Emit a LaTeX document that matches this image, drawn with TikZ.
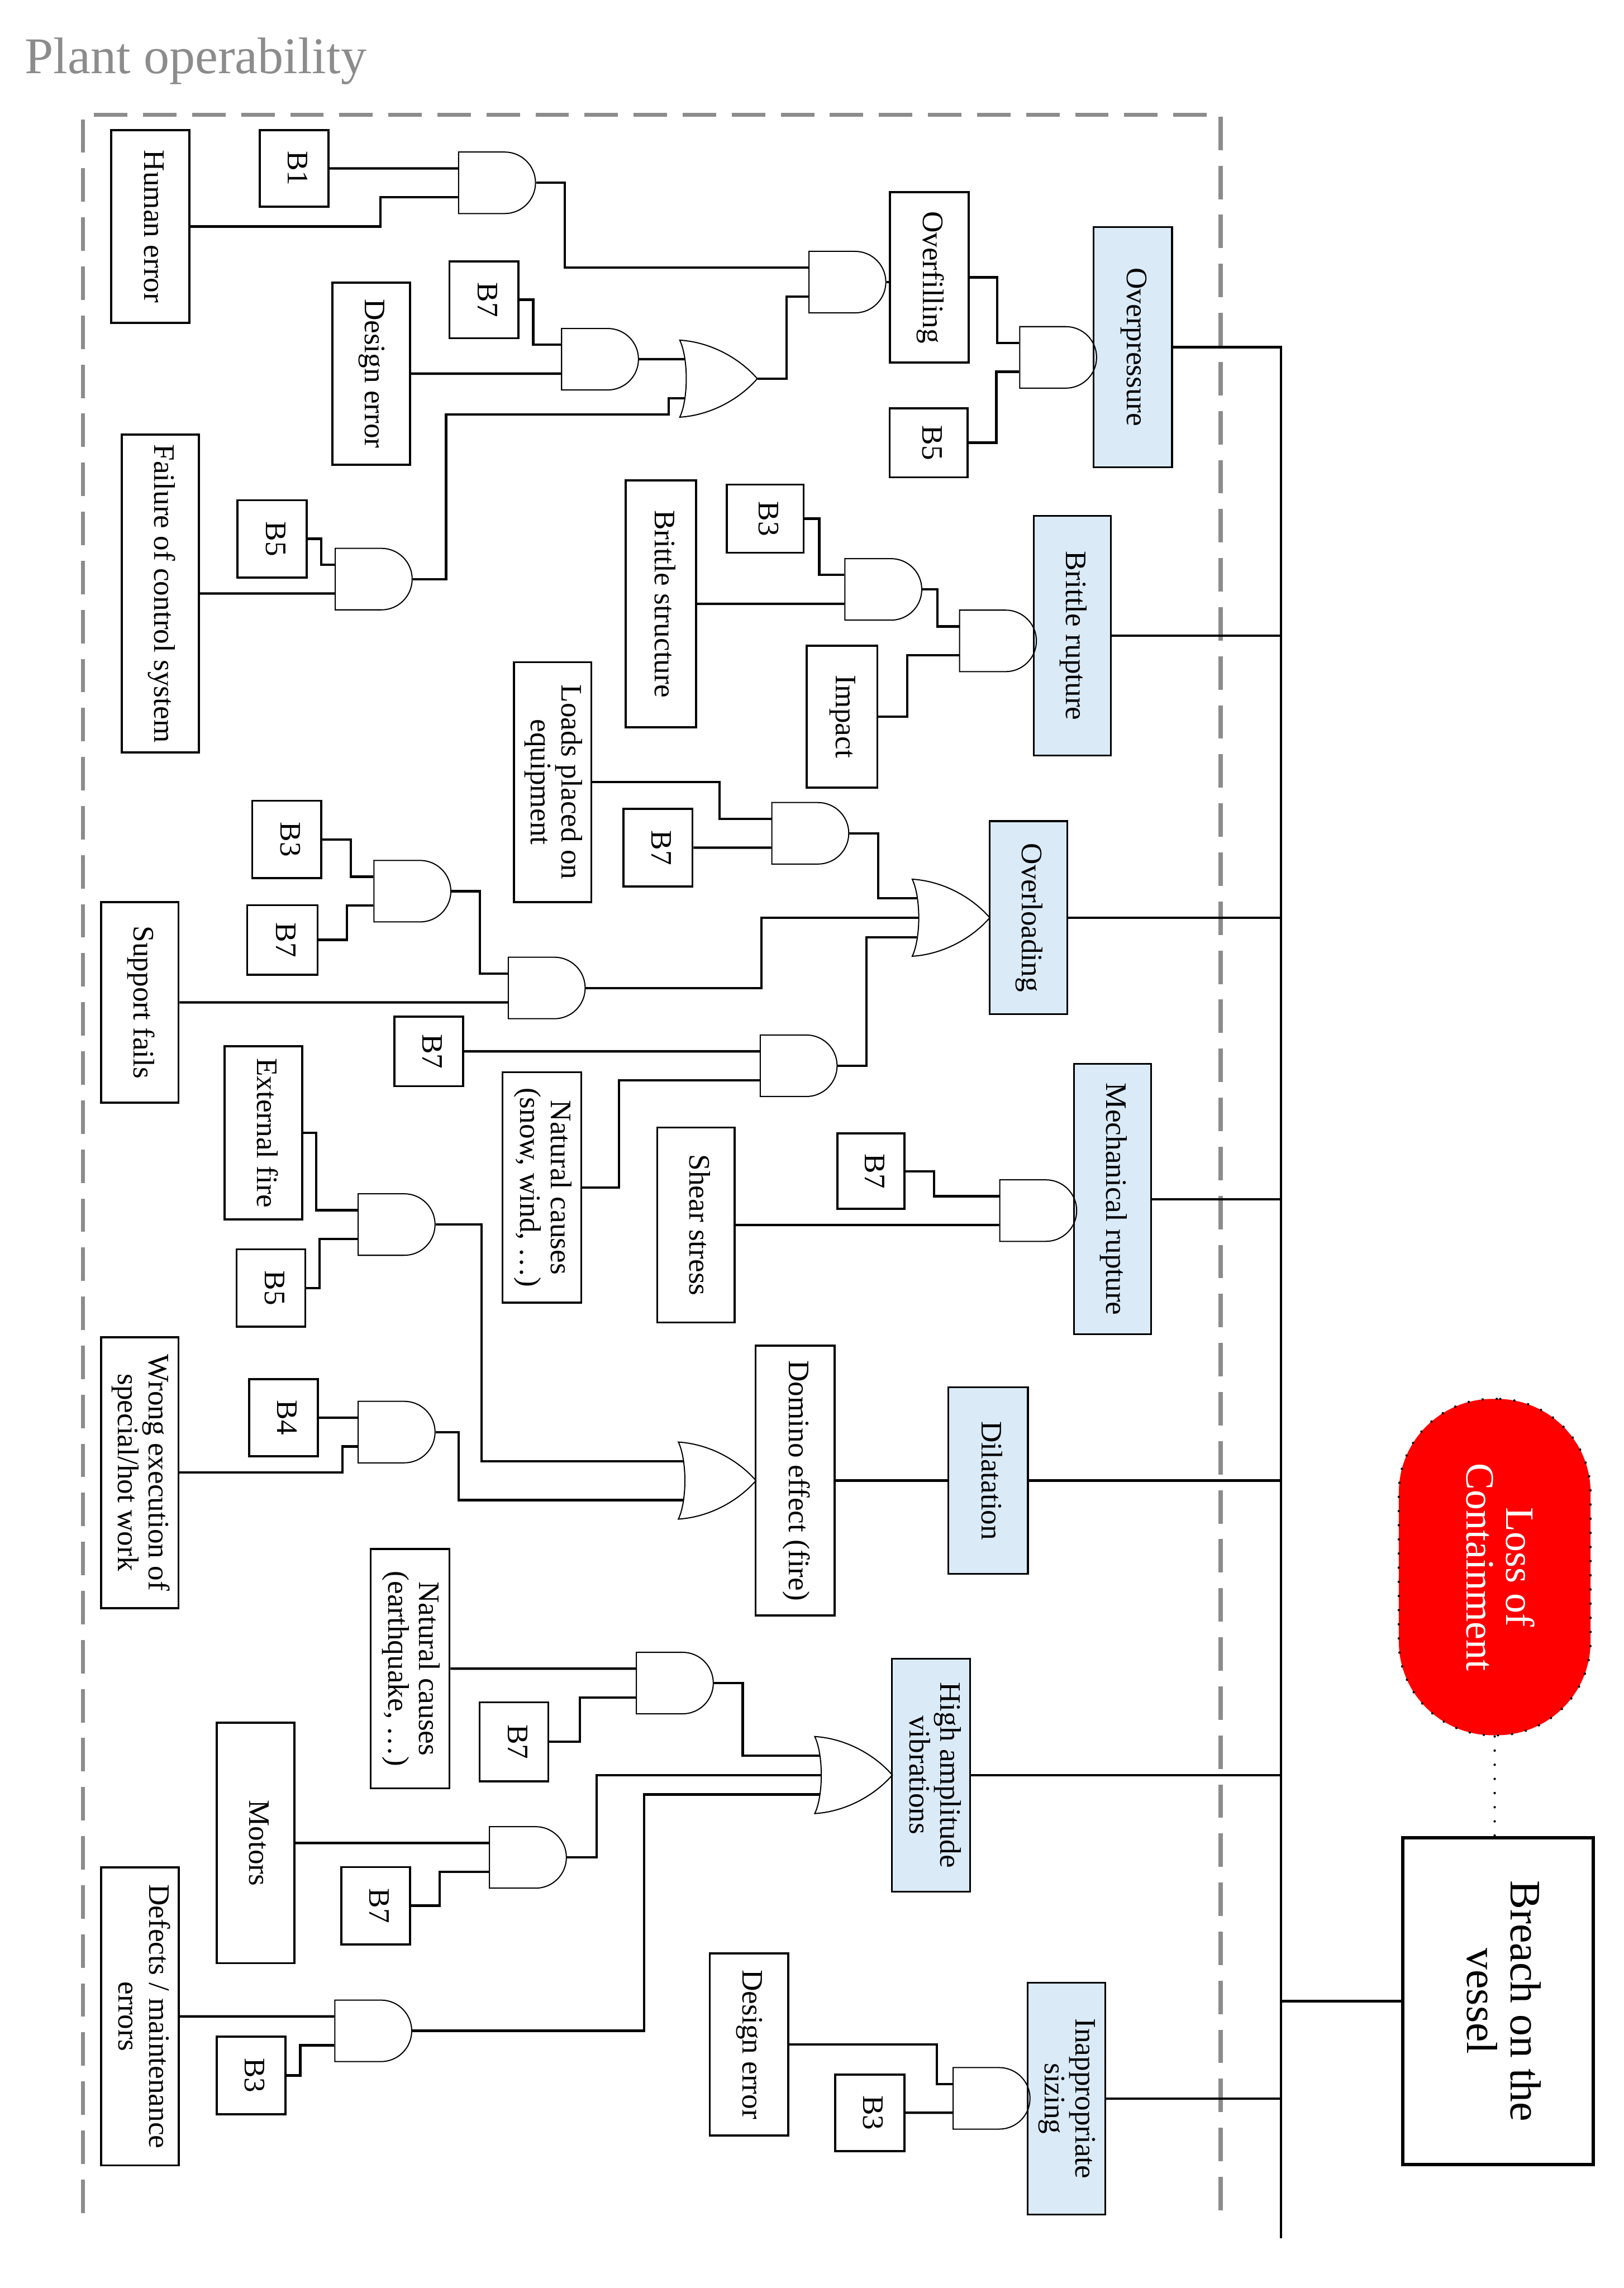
\documentclass[tikz,border=0pt]{standalone}
\usepackage{fontspec}
\setmainfont{Liberation Serif}
\usetikzlibrary{shapes.gates.logic.US}
\definecolor{evtblue}{RGB}{218,234,247}
\definecolor{framegray}{RGB}{140,140,140}
\definecolor{locred}{RGB}{255,0,0}
\newcommand{\rtext}[1]{\rotatebox{-90}{\begin{tabular}{@{}c@{}}#1\end{tabular}}}

\begin{document}
\begin{tikzpicture}
[basic/.style={draw,line width=1.3pt,fill=white,inner sep=0pt,font=\fontsize{18.5}{19}\selectfont},
inter/.style={basic,fill=evtblue,line width=1.1pt},
andg/.style={and gate US,draw,line width=0.7pt,minimum width=1.68cm,minimum height=1.26cm,inner sep=0pt},
org/.style={minimum width=1.68cm,minimum height=1.67cm,inner sep=0pt},
gateline/.style={line width=0.7pt},
wire/.style={line width=1.5pt},
frame/.style={draw=framegray,line width=2.6pt,dash pattern=on 20.8pt off 9.7pt},
dots/.style={line width=1.5pt,line cap=round,dash pattern=on 0pt off 8.8pt},
]
\useasboundingbox (0,0) rectangle (35.48,-50);
% title and dashed frame
\node[anchor=base west,text=framegray,font=\fontsize{32}{34}\selectfont] (title) at (0.42,-1.61) {Plant operability};
\draw[frame] (1.81,-48.36) -- (1.81,-2.51) -- (26.67,-2.51) -- (26.67,-48.36);
% basic events
\node[basic,minimum width=1.71cm,minimum height=4.22cm] (he) at (3.285,-4.95) {\rtext{Human error}};
\node[basic,minimum width=1.50cm,minimum height=1.68cm] (b1) at (6.43,-3.68) {\rtext{B1}};
\node[basic,minimum width=1.51cm,minimum height=1.68cm] (b7a) at (10.575,-6.55) {\rtext{B7}};
\node[basic,minimum width=1.70cm,minimum height=3.98cm] (de1) at (8.11,-8.165) {\rtext{Design error}};
\node[basic,minimum width=1.69cm,minimum height=6.95cm] (fcs) at (3.505,-12.97) {\rtext{Failure of control system}};
\node[basic,minimum width=1.51cm,minimum height=1.69cm] (b5a) at (5.945,-11.775) {\rtext{B5}};
\node[basic,minimum width=1.72cm,minimum height=3.72cm] (ovf) at (20.31,-6.06) {\rtext{Overfilling}};
\node[basic,minimum width=1.70cm,minimum height=1.51cm] (b5b) at (20.29,-9.675) {\rtext{B5}};
\node[basic,minimum width=1.54cm,minimum height=5.40cm] (bs) at (14.44,-13.195) {\rtext{Brittle structure}};
\node[basic,minimum width=1.68cm,minimum height=1.49cm] (b3a) at (16.72,-11.335) {\rtext{B3}};
\node[basic,minimum width=1.54cm,minimum height=3.10cm] (imp) at (18.40,-15.66) {\rtext{Impact}};
\node[basic,minimum width=1.69cm,minimum height=5.24cm] (lpe) at (12.075,-17.09) {\rtext{Loads placed on\\equipment}};
\node[basic,minimum width=1.51cm,minimum height=1.69cm] (b7b) at (14.375,-18.525) {\rtext{B7}};
\node[basic,minimum width=1.51cm,minimum height=1.69cm] (b3b) at (6.265,-18.345) {\rtext{B3}};
\node[basic,minimum width=1.54cm,minimum height=1.52cm] (b7c) at (6.17,-20.54) {\rtext{B7}};
\node[basic,minimum width=1.69cm,minimum height=4.39cm] (sf) at (3.055,-21.905) {\rtext{Support fails}};
\node[basic,minimum width=1.50cm,minimum height=1.52cm] (b7d) at (9.37,-22.975) {\rtext{B7}};
\node[basic,minimum width=1.72cm,minimum height=5.04cm] (ncs) at (11.84,-25.95) {\rtext{Natural causes\\(snow, wind, …)}};
\node[basic,minimum width=1.69cm,minimum height=3.79cm] (ef) at (5.755,-24.755) {\rtext{External fire}};
\node[basic,minimum width=1.50cm,minimum height=1.69cm] (b5c) at (5.92,-28.145) {\rtext{B5}};
\node[basic,minimum width=1.69cm,minimum height=4.26cm] (ss) at (15.205,-26.77) {\rtext{Shear stress}};
\node[basic,minimum width=1.46cm,minimum height=1.65cm] (b7e) at (19.03,-25.595) {\rtext{B7}};
\node[basic,minimum width=1.69cm,minimum height=5.92cm] (wex) at (3.055,-32.18) {\rtext{Wrong execution of\\special/hot work}};
\node[basic,minimum width=1.51cm,minimum height=1.69cm] (b4) at (6.195,-30.98) {\rtext{B4}};
\node[basic,minimum width=1.73cm,minimum height=5.90cm] (dom) at (17.375,-32.355) {\rtext{Domino effect (fire)}};
\node[basic,minimum width=1.72cm,minimum height=5.23cm] (nce) at (8.96,-36.465) {\rtext{Natural causes\\(earthquake, …)}};
\node[basic,minimum width=1.50cm,minimum height=1.73cm] (b7f) at (11.23,-38.065) {\rtext{B7}};
\node[basic,minimum width=1.69cm,minimum height=5.25cm] (mot) at (5.585,-40.275) {\rtext{Motors}};
\node[basic,minimum width=1.50cm,minimum height=1.69cm] (b7g) at (8.21,-41.645) {\rtext{B7}};
\node[basic,minimum width=1.70cm,minimum height=6.51cm] (dme) at (3.06,-44.065) {\rtext{Defects / maintenance\\errors}};
\node[basic,minimum width=1.50cm,minimum height=1.69cm] (b3c) at (5.49,-45.355) {\rtext{B3}};
\node[basic,minimum width=1.71cm,minimum height=3.98cm] (de2) at (16.365,-44.68) {\rtext{Design error}};
\node[basic,minimum width=1.51cm,minimum height=1.67cm] (b3d) at (19.005,-46.17) {\rtext{B3}};
% intermediate events
\node[inter,minimum width=1.71cm,minimum height=5.25cm] (ovp) at (24.755,-7.585) {\rtext{Overpressure}};
\node[inter,minimum width=1.68cm,minimum height=5.24cm] (br) at (23.43,-13.89) {\rtext{Brittle rupture}};
\node[inter,minimum width=1.70cm,minimum height=4.22cm] (ovl) at (22.47,-20.055) {\rtext{Overloading}};
\node[inter,minimum width=1.68cm,minimum height=5.91cm] (mr) at (24.31,-26.205) {\rtext{Mechanical rupture}};
\node[inter,minimum width=1.74cm,minimum height=4.08cm] (dil) at (21.59,-32.355) {\rtext{Dilatation}};
\node[inter,minimum width=1.71cm,minimum height=5.09cm] (hav) at (20.345,-38.79) {\rtext{High amplitude\\vibrations}};
\node[inter,minimum width=1.70cm,minimum height=5.06cm] (ias) at (23.30,-45.86) {\rtext{Inappropriate\\sizing}};
% top event
\node[basic,line width=2.2pt,minimum width=4.16cm,minimum height=7.14cm,font=\fontsize{27}{27}\selectfont] (bv) at (32.73,-43.73) {\rtext{Breach on the\\vessel}};
\node[draw,dots,fill=locred,rounded corners=2.05cm,minimum width=4.19cm,minimum height=7.35cm,text=white,font=\fontsize{25}{25}\selectfont] (loc) at (32.66,-34.245) {\rtext{Loss of\\Containment}};
% gates
\node[andg] (g1) at (10.805,-3.995) {};
\node[andg] (g2) at (18.46,-6.165) {};
\node[andg] (ga) at (13.055,-7.85) {};
\node[andg] (gb) at (8.11,-12.655) {};
\node[org] (or1) at (15.70,-8.275) {};
\node[andg] (g3) at (23.065,-7.81) {};
\node[andg] (g4) at (19.245,-12.88) {};
\node[andg] (g5) at (21.75,-14.005) {};
\node[andg] (g6) at (17.65,-18.21) {};
\node[andg] (g7) at (8.955,-19.475) {};
\node[andg] (g8) at (11.89,-21.59) {};
\node[andg] (g9) at (17.395,-23.29) {};
\node[org] (or2) at (20.78,-20.055) {};
\node[andg] (g10) at (22.63,-26.455) {};
\node[andg] (g11) at (8.61,-26.76) {};
\node[andg] (g12) at (8.61,-31.295) {};
\node[org] (or3) at (15.67,-32.355) {};
\node[andg] (g13) at (14.69,-36.78) {};
\node[andg] (g14) at (11.48,-40.59) {};
\node[andg] (g15) at (8.10,-44.38) {};
\node[org] (or4) at (18.65,-38.79) {};
\node[andg] (g16) at (21.61,-45.855) {};
% or gate outlines
\foreach \g in {or1,or2,or3,or4}
  \draw[gateline] (\g.north west) .. controls +(0.75,-0.05) and +(-0.33,0.385) .. (\g.east)
    .. controls +(-0.33,-0.385) and +(0.75,0.05) .. (\g.south west)
    .. controls +(0.19,0.4) and +(0.19,-0.4) .. (\g.north west) -- cycle;
% connectors
\draw[wire] (b1.east) -- ([yshift=3.15mm]g1.west);
\draw[wire] (he.east) -- ++(4.15,0) |- ([yshift=-3.15mm]g1.west);
\draw[wire] (g1.east) -- ++(0.63,0) |- ([yshift=3.15mm]g2.west);
\draw[wire] (or1.east) -- ++(0.64,0) |- ([yshift=-3.15mm]g2.west);
\draw[wire] (g2.east) -- (g2.east -| ovf.west);
\draw[wire] (b7a.east) -- ++(0.30,0) |- ([yshift=3.15mm]ga.west);
\draw[wire] (de1.east) -- ([yshift=-3.15mm]ga.west);
\draw[wire] (b5a.east) -- ++(0.30,0) |- ([yshift=3.15mm]gb.west);
\draw[wire] (fcs.east) -- ([yshift=-3.15mm]gb.west);
\draw[wire] (ga.east) -- ([xshift=1mm,yshift=4.25mm]or1.west);
\draw[wire] (gb.east) -- ++(0.73,0) |- (14.61,-9.06) |- ([xshift=1mm,yshift=-4.25mm]or1.west);
\draw[wire] (ovf.east) -- ++(0.60,0) |- ([yshift=3.15mm]g3.west);
\draw[wire] (b5b.east) -- ++(0.61,0) |- ([yshift=-3.15mm]g3.west);
\draw[wire] (b3a.east) -- ++(0.32,0) |- ([yshift=3.15mm]g4.west);
\draw[wire] (bs.east) -- ([yshift=-3.15mm]g4.west);
\draw[wire] (g4.east) -- ++(0.33,0) |- ([yshift=3.15mm]g5.west);
\draw[wire] (imp.east) -- ++(0.63,0) |- ([yshift=-3.15mm]g5.west);
\draw[wire] (lpe.east) -- ++(2.78,0) |- ([yshift=3.15mm]g6.west);
\draw[wire] (b7b.east) -- ([yshift=-3.15mm]g6.west);
\draw[wire] (g6.east) -- ++(0.63,0) |- ([xshift=1mm,yshift=4.25mm]or2.west);
\draw[wire] (g8.east) -- ++(3.84,0) |- ([xshift=1.4mm]or2.west);
\draw[wire] (g9.east) -- ++(0.63,0) |- ([xshift=1mm,yshift=-4.25mm]or2.west);
\draw[wire] (b3b.east) -- ++(0.62,0) |- ([yshift=3.15mm]g7.west);
\draw[wire] (b7c.east) -- ++(0.62,0) |- ([yshift=-3.15mm]g7.west);
\draw[wire] (g7.east) -- ++(0.62,0) |- ([yshift=3.15mm]g8.west);
\draw[wire] (sf.east) -- ([yshift=-3.15mm]g8.west);
\draw[wire] (b7d.east) -- ([yshift=3.15mm]g9.west);
\draw[wire] (ncs.east) -- ++(0.80,0) |- ([yshift=-3.15mm]g9.west);
\draw[wire] (b7e.east) -- ++(0.63,0) |- ([yshift=3.15mm]g10.west);
\draw[wire] (ss.east) -- ([yshift=-3.15mm]g10.west);
\draw[wire] (ef.east) -- ++(0.29,0) |- ([yshift=3.15mm]g11.west);
\draw[wire] (b5c.east) -- ++(0.29,0) |- ([yshift=-3.15mm]g11.west);
\draw[wire] (g11.east) -- ++(1.00,0) |- ([xshift=1mm,yshift=4.25mm]or3.west);
\draw[wire] (b4.east) -- ([yshift=3.15mm]g12.west);
\draw[wire] (wex.east) -- ++(3.56,0) |- ([yshift=-3.15mm]g12.west);
\draw[wire] (g12.east) -- ++(0.50,0) |- ([xshift=1mm,yshift=-4.25mm]or3.west);
\draw[wire] (nce.east) -- ([yshift=3.15mm]g13.west);
\draw[wire] (b7f.east) -- ++(0.67,0) |- ([yshift=-3.15mm]g13.west);
\draw[wire] (g13.east) -- ++(0.63,0) |- ([xshift=1mm,yshift=4.25mm]or4.west);
\draw[wire] (mot.east) -- ([yshift=3.15mm]g14.west);
\draw[wire] (b7g.east) -- ++(0.62,0) |- ([yshift=-3.15mm]g14.west);
\draw[wire] (g14.east) -- ++(0.65,0) |- ([xshift=1.4mm]or4.west);
\draw[wire] (dme.east) -- ([yshift=3.15mm]g15.west);
\draw[wire] (b3c.east) -- ++(0.30,0) |- ([yshift=-3.15mm]g15.west);
\draw[wire] (g15.east) -- ++(5.07,0) |- ([xshift=1mm,yshift=-4.25mm]or4.west);
\draw[wire] (de2.east) -- ++(3.23,0) |- ([yshift=3.15mm]g16.west);
\draw[wire] (b3d.east) -- ([yshift=-3.15mm]g16.west);
\draw[wire] (dom.east) -- (dil.west);
% bus to the top event
\coordinate (bustop) at (27.99,-7.585);
\coordinate (busend) at (27.99,-48.91);
\draw[wire] (ovp.east) -- (bustop) -- (busend);
\foreach \n in {br,ovl,mr,dil,hav,ias}
  \draw[wire] (\n.east) -- (\n.east -| bustop);
\draw[wire] (bv.west) -- (bv.west -| bustop);
\draw[dots] (loc.south) -- (loc.south |- bv.north);
\end{tikzpicture}
\end{document}
